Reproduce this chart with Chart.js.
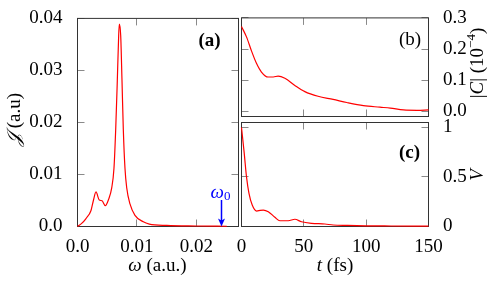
<!DOCTYPE html>
<html><head><meta charset="utf-8">
<script src="https://cdn.jsdelivr.net/npm/chart.js@4.4.1/dist/chart.umd.min.js"></script>
<style>
html,body{margin:0;padding:0;background:#fff;width:498px;height:284px;overflow:hidden}
#wrap{position:relative;width:498px;height:284px}
canvas{position:absolute;left:0;top:0}
</style></head>
<body>
<div id="wrap">
<canvas id="ca" width="498" height="284"></canvas>
<canvas id="cb" width="498" height="284"></canvas>
<canvas id="cc" width="498" height="284"></canvas>
</div>
<script>
// ---- data (a): spectral density vs omega
const A_OMEGA = [0, 0.0007, 0.00143, 0.00227, 0.00266, 0.00311, 0.00366, 0.00412, 0.00467, 0.00524, 0.00575, 0.00613, 0.00642, 0.00669, 0.00692, 0.00703, 0.00726, 0.00748, 0.0077, 0.00798, 0.00827, 0.00882, 0.00966, 0.01106, 0.01207, 0.015, 0.02, 0.0251];
const A_J     = [0, 0.0006, 0.00153, 0.00308, 0.00495, 0.00664, 0.00508, 0.00495, 0.00402, 0.00527, 0.00744, 0.01118, 0.01865, 0.028, 0.0367, 0.0389, 0.0367, 0.028, 0.01865, 0.01118, 0.00744, 0.00434, 0.00215, 0.0009, 0.00047, 0.0002, 0.0001, 0.00005];
const A_XTICKS = [0, 0.01, 0.02];
const A_XLABELS = ['0.0', '0.01', '0.02'];
const A_YTICKS = [0, 0.01, 0.02, 0.03, 0.04];
const A_YLABELS = ['0.0', '0.01', '0.02', '0.03', '0.04'];
const OMEGA0 = 0.0241;
// ---- data (b): |C| vs t
const B_T = [0, 4, 8, 12, 16, 21.4, 25.5, 29.4, 34.8, 42.8, 50.8, 61.4, 73.5, 84.5, 97.8, 111, 119.4, 130, 140.7, 150];
const B_C = [0.272, 0.239, 0.194, 0.154, 0.126, 0.110, 0.110, 0.113, 0.106, 0.083, 0.063, 0.048, 0.038, 0.028, 0.018, 0.013, 0.010, 0.004, 0.003, 0.004];
const B_YTICKS = [0, 0.1, 0.2, 0.3];
const B_YLABELS = ['0.0', '0.1', '0.2', '0.3'];
// ---- data (c): V vs t
const C_T = [0, 2.2, 4, 6, 8.6, 12.2, 15, 17.5, 21.5, 26.8, 30.8, 37.5, 42.8, 48.1, 56.2, 66.9, 73.5, 85, 100, 120, 150];
const C_V = [1.0, 0.738, 0.502, 0.335, 0.217, 0.156, 0.163, 0.166, 0.149, 0.093, 0.058, 0.058, 0.073, 0.048, 0.032, 0.025, 0.015, 0.011, 0.007, 0.005, 0.003];
const C_YTICKS = [0, 0.5, 1];
const C_YLABELS = ['0', '0.5', '1'];
const T_TICKS = [0, 50, 100, 150];
const T_LABELS = ['0', '50', '100', '150'];

const FONTF = '"Liberation Serif", "DejaVu Serif", serif';
const FS = 19;
const FRAME = '#333333';
const TICKC = '#8a8a8a';
const TL = 7;

function pts(xs, ys){ return xs.map((x,i)=>({x:x, y:ys[i]})); }
function setTicks(arr){ return s => { s.ticks = arr.map(v=>({value:v})); }; }

function drawRich(ctx, segs, x, y, rot){
  ctx.save(); ctx.translate(x, y); ctx.rotate(rot||0);
  let w = 0;
  segs.forEach(s=>{ ctx.font = s.font; s.w = ctx.measureText(s.t).width; w += s.w; });
  let cx = -w/2; ctx.textBaseline = 'middle'; ctx.textAlign = 'left';
  segs.forEach(s=>{ ctx.font = s.font; ctx.fillStyle = s.color || '#000'; ctx.fillText(s.t, cx, s.dy || 0); cx += s.w; });
  ctx.restore();
}
const R = FS + 'px ' + FONTF, I = 'italic ' + FS + 'px ' + FONTF, B = 'bold ' + FS + 'px ' + FONTF;

const frameTicks = {
  id: 'frameTicks',
  beforeDatasetsDraw(chart){
    const ctx = chart.ctx, a = chart.chartArea;
    ctx.save();
    ctx.strokeStyle = TICKC; ctx.lineWidth = 1;
    Object.values(chart.scales).forEach(s=>{
      s.ticks.forEach(t=>{
        const p = Math.round(s.getPixelForValue(t.value) - 0.5) + 0.5;
        ctx.beginPath();
        if (s.isHorizontal()){
          ctx.moveTo(p, a.top); ctx.lineTo(p, a.top + TL);
          ctx.moveTo(p, a.bottom); ctx.lineTo(p, a.bottom - TL);
        } else {
          ctx.moveTo(a.left, p); ctx.lineTo(a.left + TL, p);
          ctx.moveTo(a.right, p); ctx.lineTo(a.right - TL, p);
        }
        ctx.stroke();
      });
    });
    ctx.strokeStyle = FRAME;
    ctx.strokeRect(a.left, a.top, a.right - a.left, a.bottom - a.top);
    ctx.restore();
  },
  afterDraw(chart, args, opts){
    if (opts.draw) opts.draw(chart, chart.ctx);
  }
};

function lineDs(data){
  return { data: data, borderColor: '#ff0000', borderWidth: 1.2, pointRadius: 0,
           fill: false, cubicInterpolationMode: 'monotone', clip: false };
}
function baseScale(extra){
  return Object.assign({ type: 'linear', grid: { display: false }, border: { display: false } }, extra);
}
const common = { responsive: false, animation: false, devicePixelRatio: 1, events: [] };

// ---- Chart (a)
new Chart(document.getElementById('ca'), {
  type: 'line',
  data: { datasets: [ lineDs(pts(A_OMEGA, A_J)) ] },
  plugins: [frameTicks],
  options: Object.assign({}, common, {
    layout: { padding: { left: 0, top: 12.5, right: 259.5, bottom: 0 } },
    plugins: { legend: { display: false }, tooltip: { enabled: false },
      frameTicks: { draw(chart, ctx){
        const xs = chart.scales.x, ys = chart.scales.y;
        drawRich(ctx, [{t:'(a)', font:B}], 209.5, 41, 0);
        drawRich(ctx, [{t:'𝒥', font:I}, {t:' (a.u)', font:R}], 15, 119.5, -Math.PI/2);
        drawRich(ctx, [{t:'ω', font:I}, {t:' (a.u.)', font:R}], 157.5, 266, 0);
        const px = Math.round(xs.getPixelForValue(OMEGA0)) + 0.5;
        drawRich(ctx, [{t:'ω', font:I, color:'#0000ff'}, {t:'0', font:'13px ' + FONTF, color:'#0000ff', dy:4}], px - 1, 193, 0);
        ctx.save(); ctx.strokeStyle = '#0000ff'; ctx.fillStyle = '#0000ff'; ctx.lineWidth = 1.5;
        const yb = ys.getPixelForValue(0);
        ctx.beginPath(); ctx.moveTo(px, 200); ctx.lineTo(px, yb - 5); ctx.stroke();
        ctx.beginPath(); ctx.moveTo(px, yb); ctx.lineTo(px - 3.5, yb - 8); ctx.lineTo(px, yb - 6); ctx.lineTo(px + 3.5, yb - 8); ctx.closePath(); ctx.fill();
        ctx.restore();
      } } },
    scales: {
      x: baseScale({ position: 'bottom', min: 0, max: 0.02706,
        afterBuildTicks: setTicks(A_XTICKS), afterFit: s => { s.height = 57.5; },
        ticks: { font: { family: FONTF, size: FS }, color: '#000', padding: 1, maxRotation: 0, autoSkip: false,
                 callback: (v, i) => A_XLABELS[i] } }),
      y: baseScale({ position: 'left', min: 0, max: 0.04,
        afterBuildTicks: setTicks(A_YTICKS), afterFit: s => { s.width = 77.5; },
        ticks: { font: { family: FONTF, size: FS }, color: '#000', padding: 7, autoSkip: false,
                 callback: (v, i) => A_YLABELS[i] } })
    }
  })
});

// ---- Chart (b)
new Chart(document.getElementById('cb'), {
  type: 'line',
  data: { datasets: [ lineDs(pts(B_T, B_C)) ] },
  plugins: [frameTicks],
  options: Object.assign({}, common, {
    layout: { padding: { left: 241.5, top: 12.5, right: 29.5, bottom: 157.5 } },
    plugins: { legend: { display: false }, tooltip: { enabled: false },
      frameTicks: { draw(chart, ctx){
        drawRich(ctx, [{t:'(b)', font:R}], 410, 40.5, 0);
        drawRich(ctx, [{t:'|', font:R}, {t:'C', font:I}, {t:'| (10', font:R}, {t:'−4', font:'13px ' + FONTF, dy:-6}, {t:')', font:R}], 478, 63, -Math.PI/2);
      } } },
    scales: {
      x: baseScale({ position: 'bottom', min: 0, max: 150,
        afterBuildTicks: setTicks(T_TICKS), afterFit: s => { s.height = 10; },
        ticks: { display: false } }),
      y: baseScale({ position: 'right', min: -0.017, max: 0.3,
        afterBuildTicks: setTicks(B_YTICKS), afterFit: s => { s.width = 40; },
        ticks: { font: { family: FONTF, size: FS }, color: '#000', padding: 6.5, autoSkip: false,
                 callback: (v, i) => B_YLABELS[i] } })
    }
  })
});

// ---- Chart (c)
new Chart(document.getElementById('cc'), {
  type: 'line',
  data: { datasets: [ lineDs(pts(C_T, C_V)) ] },
  plugins: [frameTicks],
  options: Object.assign({}, common, {
    layout: { padding: { left: 241.5, top: 122.5, right: 29.5, bottom: 0 } },
    plugins: { legend: { display: false }, tooltip: { enabled: false },
      frameTicks: { draw(chart, ctx){
        drawRich(ctx, [{t:'(c)', font:B}], 409.5, 153.5, 0);
        drawRich(ctx, [{t:'t', font:I}, {t:' (fs)', font:R}], 335, 266, 0);
        drawRich(ctx, [{t:'V', font:I}], 478, 175, -Math.PI/2);
      } } },
    scales: {
      x: baseScale({ position: 'bottom', min: 0, max: 150,
        afterBuildTicks: setTicks(T_TICKS), afterFit: s => { s.height = 57.5; },
        ticks: { font: { family: FONTF, size: FS }, color: '#000', padding: 1, maxRotation: 0, autoSkip: false,
                 callback: (v, i) => T_LABELS[i] } }),
      y: baseScale({ position: 'right', min: 0, max: 1.05,
        afterBuildTicks: setTicks(C_YTICKS), afterFit: s => { s.width = 40; },
        ticks: { font: { family: FONTF, size: FS }, color: '#000', padding: 6.5, autoSkip: false,
                 callback: (v, i) => C_YLABELS[i] } })
    }
  })
});
</script>
</body></html>
